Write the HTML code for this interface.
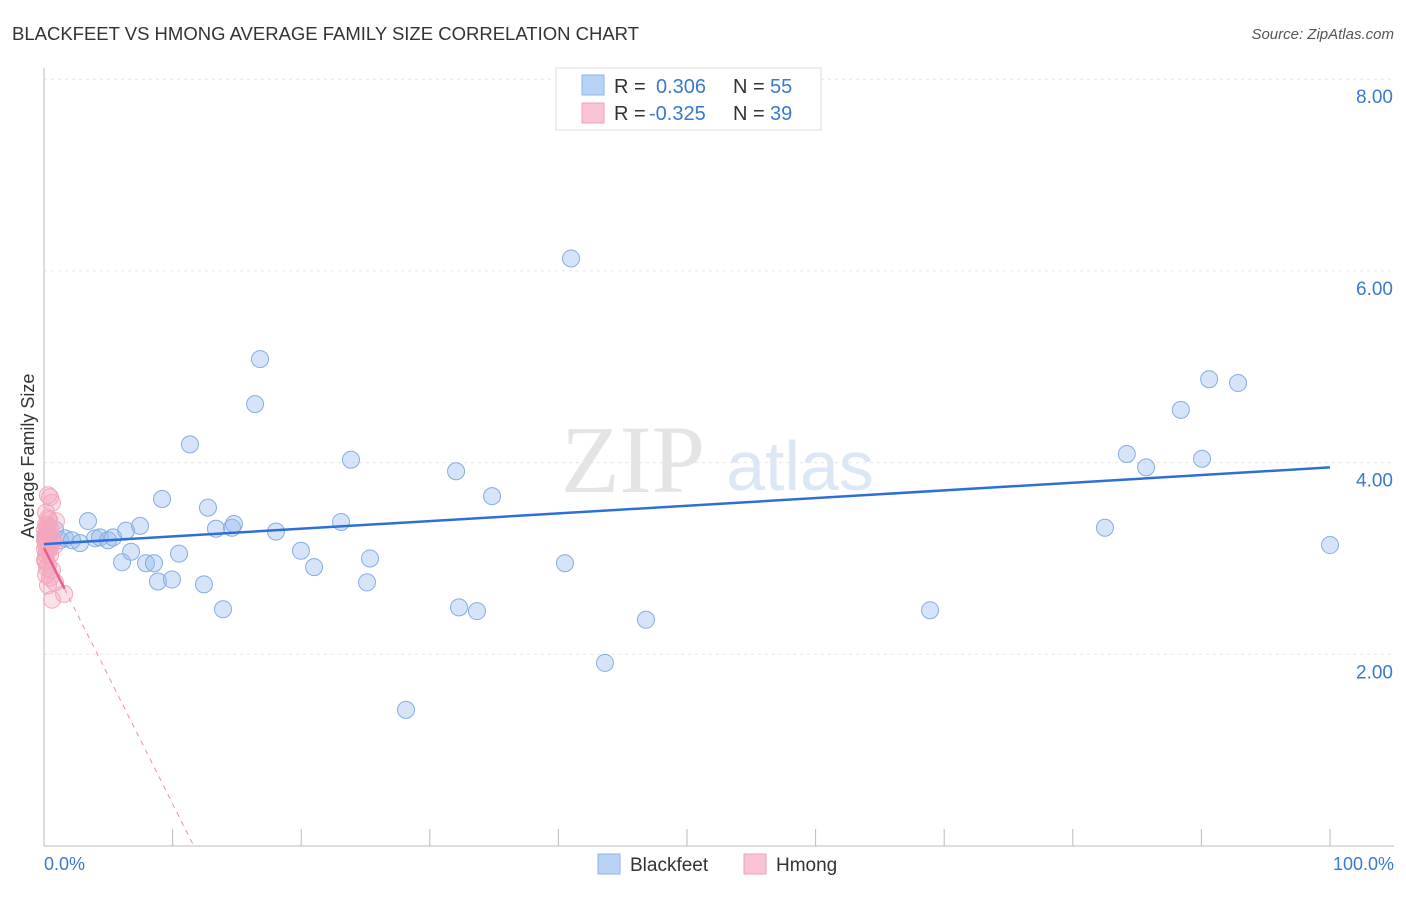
<!DOCTYPE html>
<html><head><meta charset="utf-8"><style>
body{margin:0;background:#fff;font-family:"Liberation Sans",sans-serif;}
svg text{font-family:"Liberation Sans",sans-serif;}
</style></head><body>
<svg id="c" width="1406" height="892">
<text x="12" y="40" font-size="18.5" fill="#333" textLength="627">BLACKFEET VS HMONG AVERAGE FAMILY SIZE CORRELATION CHART</text>
<text x="1394" y="39" font-size="15" fill="#555" text-anchor="end" font-style="italic">Source: ZipAtlas.com</text>
<text x="633" y="492" font-size="96" fill="#e4e4e4" font-family="Liberation Serif" text-anchor="middle" style="font-family:'Liberation Serif',serif">ZIP</text>
<text x="800" y="490" font-size="70" fill="#dce7f5" text-anchor="middle">atlas</text>
<g id="grid"></g><g id="axes"></g><g id="marks"></g>
<text transform="translate(34,456) rotate(-90)" font-size="18" fill="#333" text-anchor="middle">Average Family Size</text>
<text x="44" y="870" font-size="18" fill="#3b78d0">0.0%</text>
<text x="1394" y="870" font-size="18" fill="#3b78d0" text-anchor="end">100.0%</text>
<g>
<rect x="556" y="68" width="265" height="62" fill="#fff" stroke="#ddd"/>
<rect x="582" y="75" width="22" height="20" fill="#b8d3f5" stroke="#8fb4e8"/>
<rect x="582" y="103" width="22" height="20" fill="#f9c5d4" stroke="#f0a0b8"/>
<text x="614" y="93" font-size="20" fill="#333">R =<tspan x="656" fill="#3b78d0">0.306</tspan><tspan x="733">N =</tspan><tspan x="770" fill="#3b78d0">55</tspan></text>
<text x="614" y="120" font-size="20" fill="#333">R =<tspan x="649" fill="#3b78d0">-0.325</tspan><tspan x="733">N =</tspan><tspan x="770" fill="#3b78d0">39</tspan></text>
</g>
<g>
<rect x="598" y="854" width="22" height="20" fill="#b8d3f5" stroke="#8fb4e8"/>
<text x="630" y="871" font-size="19" fill="#333">Blackfeet</text>
<rect x="744" y="854" width="22" height="20" fill="#f9c5d4" stroke="#f0a0b8"/>
<text x="776" y="871" font-size="19" fill="#333">Hmong</text>
</g>
</svg>
<script>
const yTicks=[2,4,6,8];
const yTickLabels=["2.00","4.00","6.00","8.00"];
const xTicks=[0,10,20,30,40,50,60,70,80,90,100];
const bfX=[0.86,1.24,1.63,2.18,2.8,3.42,3.97,4.35,4.98,5.37,6.07,6.38,6.77,7.47,7.93,8.55,8.86,9.18,9.95,10.5,11.35,12.44,12.75,13.37,13.92,14.62,14.77,16.41,16.8,18.04,19.98,21.0,23.1,23.87,25.12,25.35,28.15,32.04,32.27,33.67,34.84,40.51,40.98,43.62,46.81,68.9,82.5,84.2,85.7,88.4,90.05,90.6,92.85,100,0.1];
const bfY=[3.30,3.19,3.21,3.19,3.16,3.39,3.21,3.22,3.19,3.22,2.96,3.29,3.07,3.34,2.95,2.95,2.76,3.62,2.78,3.05,4.19,2.73,3.53,3.31,2.47,3.32,3.36,4.61,5.08,3.28,3.08,2.91,3.38,4.03,2.75,3.00,1.42,3.91,2.49,2.45,3.65,2.95,6.13,1.91,2.36,2.46,3.32,4.09,3.95,4.55,4.04,4.87,4.83,3.14,3.24];
const hmX=[0.31,0.47,0.62,0.16,0.31,0.93,0.16,0.47,0.23,0.62,0.16,0.39,0.86,0.23,0.47,0.16,0.31,0.62,0.16,0.47,0.86,0.31,1.56,0.62,0.23,0.16,0.08,0.39,0.7,0.08,0.23,0.39,0.16,0.08,0.31,0.47,0.23,0.08,0.16];
const hmY=[3.66,3.64,3.58,3.48,3.42,3.39,3.35,3.32,3.27,3.22,3.18,3.14,3.14,3.09,3.04,2.98,2.93,2.88,2.83,2.80,2.75,2.72,2.63,2.57,3.30,3.14,3.19,3.40,3.19,3.30,3.22,3.09,3.04,2.98,3.35,3.12,2.90,3.10,3.20];
const bfTrend=[3.15,3.95];
const hmTrend=[3.11,-0.267];
const NS="http://www.w3.org/2000/svg";
const sx=v=>44+v*12.86, sy=v=>846-v*95.85;
function mk(p,t,a){const e=document.createElementNS(NS,t);for(const k in a)e.setAttribute(k,a[k]);document.getElementById(p).appendChild(e);return e;}
yTicks.forEach((t,i)=>{
 const l=mk('grid','line',{x1:44,x2:1394,y1:sy(t),y2:sy(t),stroke:'#e6e6e6','stroke-dasharray':'3,4'});
 
 
 const tx=mk('grid','text',{x:1393,y:sy(t)+24,'font-size':19,fill:'#3b78d0','text-anchor':'end'});
 tx.textContent=yTickLabels[i];
 
 
});
const ax=mk('axes','line',{x1:44,x2:44,y1:68,y2:846,stroke:'#bbb'});


const bx=mk('axes','line',{x1:44,x2:1394,y1:846,y2:846,stroke:'#bbb'});


xTicks.forEach(t=>{const l=mk('axes','line',{x1:sx(t),x2:sx(t),y1:829,y2:846,stroke:'#bbb'});
 
 });
bfX.forEach((x,i)=>{const c=mk('marks','circle',{cx:sx(x),cy:sy(bfY[i]),r:8.5,fill:'rgba(150,188,238,0.4)',stroke:'#86ade3','stroke-width':1});
 
 });
hmX.forEach((x,i)=>{const c=mk('marks','circle',{cx:sx(x),cy:sy(hmY[i]),r:8.5,fill:'rgba(245,165,190,0.35)',stroke:'#f0a8bc','stroke-width':1});
 
 });
const bt=mk('marks','line',{x1:sx(0),y1:sy(bfTrend[0]),x2:sx(100),y2:sy(bfTrend[1]),stroke:'#2e6fd6','stroke-width':2.5});


const hEnd=-hmTrend[0]/hmTrend[1];
const hd=mk('marks','line',{x1:sx(1.6),y1:sy(hmTrend[0]+hmTrend[1]*1.6),x2:sx(hEnd),y2:sy(0),stroke:'#f08aa8','stroke-width':1,'stroke-dasharray':'5,5'});


const ht=mk('marks','line',{x1:sx(0),y1:sy(hmTrend[0]),x2:sx(1.6),y2:sy(hmTrend[0]+hmTrend[1]*1.6),stroke:'#e8608a','stroke-width':2.5});


</script>
</body></html>
